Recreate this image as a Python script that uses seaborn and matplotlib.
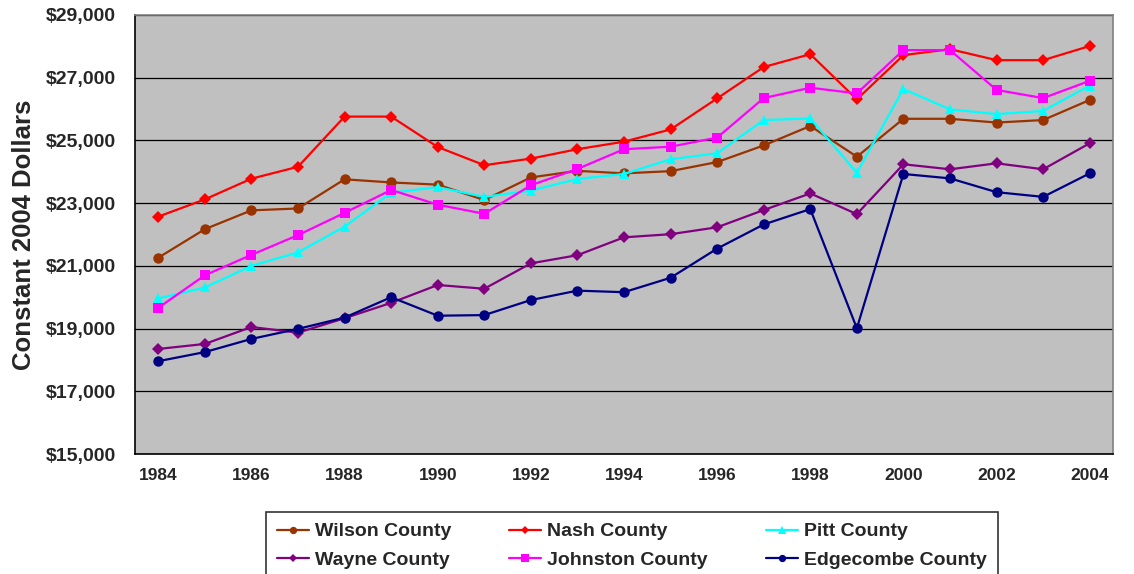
import matplotlib
matplotlib.use("Agg")
import matplotlib.pyplot as plt
import numpy as np
import pandas as pd
import seaborn as sns
from matplotlib.ticker import FixedLocator, FuncFormatter

years = list(range(1984, 2005))

wilson = [21260, 22170, 22770, 22830, 23760, 23660, 23590, 23100, 23820, 24030, 23950,
          24020, 24310, 24840, 25460, 24480, 25690, 25690, 25570, 25650, 26290]
nash = [22570, 23120, 23780, 24160, 25760, 25760, 24790, 24210, 24420, 24720, 24960,
        25350, 26340, 27340, 27750, 26310, 27720, 27910, 27560, 27560, 28010]
pitt = [19960, 20310, 21000, 21430, 22250, 23330, 23510, 23200, 23400, 23770, 23930,
        24400, 24590, 25650, 25700, 23970, 26640, 25990, 25840, 25940, 26750]
wayne = [18350, 18510, 19050, 18870, 19330, 19820, 20390, 20270, 21080, 21340, 21910,
         22010, 22230, 22780, 23310, 22650, 24240, 24080, 24270, 24080, 24910]
johnston = [19660, 20700, 21350, 21980, 22690, 23420, 22950, 22660, 23570, 24090, 24720,
            24800, 25090, 26350, 26680, 26500, 27880, 27880, 26610, 26350, 26900]
edgecombe = [17960, 18250, 18670, 18990, 19350, 20000, 19410, 19430, 19910, 20210, 20160,
             20620, 21550, 22320, 22810, 19010, 23930, 23790, 23350, 23200, 23950]

counties = ["Wilson County", "Nash County", "Pitt County",
            "Wayne County", "Johnston County", "Edgecombe County"]
series = [wilson, nash, pitt, wayne, johnston, edgecombe]
colors = ["#993300", "#FF0000", "#00FFFF", "#800080", "#FF00FF", "#000080"]
marker_map = ["o", "D", "^", "D", "s", "o"]

df = pd.DataFrame({
    "Year": np.tile(years, len(counties)),
    "County": np.repeat(counties, len(years)),
    "Income": np.concatenate(series),
})

sns.set_style("white")
plt.rcParams["font.family"] = ["Liberation Sans", "DejaVu Sans"]
plt.rcParams["font.weight"] = "bold"

fig = plt.figure(figsize=(11.34, 5.74), dpi=100)
ax = fig.add_axes([135 / 1134, 1 - 454 / 574, 978 / 1134, 439 / 574])
ax.set_facecolor("#C0C0C0")

sns.lineplot(
    data=df, x="Year", y="Income", hue="County", style="County",
    hue_order=counties, style_order=counties,
    palette=dict(zip(counties, colors)),
    markers=dict(zip(counties, marker_map)),
    dashes=False, linewidth=1.6, markersize=7.5, markeredgewidth=0,
    errorbar=None, ax=ax,
)

# diamonds look slightly smaller than circles in the reference
for line in ax.get_lines():
    if line.get_marker() == "D":
        line.set_markersize(6.3)

ax.set_xlim(1983.5, 2004.5)
ax.set_ylim(15000, 29000)
ax.set_yticks(np.arange(15000, 29001, 2000))
ax.yaxis.set_major_formatter(FuncFormatter(lambda v, _: f"${v:,.0f}"))
ax.set_xticks(years[::2])
ax.xaxis.set_minor_locator(FixedLocator(np.arange(1983.5, 2005, 1)))
ax.tick_params(axis="x", which="major", length=0, pad=10, labelsize=12.5)
ax.tick_params(axis="x", which="minor", length=5, width=1, color="black", direction="out")
ax.tick_params(axis="y", which="major", length=7, width=1, color="black",
               direction="out", pad=7, labelsize=14)
for lab in ax.get_xticklabels() + ax.get_yticklabels():
    lab.set_fontweight("bold")

ax.grid(axis="y", color="black", linewidth=0.9)
ax.set_axisbelow(True)
for side in ["left", "bottom"]:
    ax.spines[side].set_color("black")
    ax.spines[side].set_linewidth(1.2)
for side in ["top", "right"]:
    ax.spines[side].set_color("#808080")
    ax.spines[side].set_linewidth(1.2)

ax.set_xlabel("")
ax.set_ylabel("Constant 2004 Dollars", fontsize=18.5, fontweight="bold")
ax.yaxis.set_label_coords(-0.101, 0.5)

handles, labels = ax.get_legend_handles_labels()
ax.get_legend().remove()
lookup = dict(zip(labels, handles))
order = ["Wilson County", "Wayne County", "Nash County",
         "Johnston County", "Pitt County", "Edgecombe County"]
leg = fig.legend(
    [lookup[k] for k in order], order,
    loc="upper left", bbox_to_anchor=(266 / 1134, 1 - 512 / 574),
    ncol=3, frameon=True, fancybox=False, edgecolor="black",
    prop={"size": 14, "weight": "bold"}, markerscale=0.7,
    handlelength=1.65, handletextpad=0.3, columnspacing=3.0,
    labelspacing=0.55, borderpad=0.55, borderaxespad=0,
)
leg.get_frame().set_linewidth(1.2)

fig.savefig("out.png", dpi=100)
plt.close(fig)
